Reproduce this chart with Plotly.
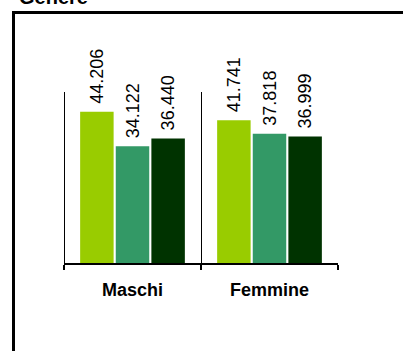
import plotly.graph_objects as go

# Data
categories = ["Maschi", "Femmine"]
series_names = ["Serie A", "Serie B", "Serie C"]
series_values = [
    [44206, 41741],
    [34122, 37818],
    [36440, 36999],
]
series_colors = ["#99CC00", "#339966", "#003300"]
title_text = "Genere"
y_max = 50000

W, H = 403, 351
ML, MR, MT, MB = 64, 65, 92, 88
PW, PH = W - ML - MR, H - MT - MB


def px_x(p):
    return (p - ML) / PW


def px_y(p):
    return (H - MB - p) / PH


def fmt(v):
    # Italian thousands separator; leading nbsp keeps the label off the bar top
    return "\u00a0" + f"{v:,}".replace(",", ".")


fig = go.Figure()
for name, vals, col in zip(series_names, series_values, series_colors):
    fig.add_trace(go.Bar(
        x=categories, y=vals, name=name,
        marker=dict(color=col, line=dict(width=0)),
        text=[fmt(v) for v in vals],
        textposition="outside", textangle=-90,
        textfont=dict(family="Arial, Liberation Sans", size=18, color="black"),
        constraintext="none", cliponaxis=False,
    ))

fig.update_layout(
    width=W, height=H,
    margin=dict(l=ML, r=MR, t=MT, b=MB, pad=0),
    paper_bgcolor="white", plot_bgcolor="white",
    barmode="group", bargap=0.22, bargroupgap=0.06,
    showlegend=False,
    font=dict(family="Arial, Liberation Sans", color="black"),
    xaxis=dict(
        type="category", range=[-0.5, len(categories) - 0.5],
        tickson="boundaries", ticks="outside", ticklen=5, tickwidth=2,
        tickcolor="black", showline=True, linecolor="black", linewidth=2,
        showgrid=False, ticklabelstandoff=9,
        tickfont=dict(size=18, family="Arial, Liberation Sans", weight="bold"),
        fixedrange=True,
    ),
    yaxis=dict(range=[0, y_max], visible=False, fixedrange=True),
)

# Category separators (half-pixel shift keeps the 1px line crisp)
half_px = 0.5 * len(categories) / PW
for i in range(len(categories) + 1):
    xb = i - 0.5 + half_px
    fig.add_shape(type="line", xref="x", yref="y",
                  x0=xb, x1=xb, y0=0, y1=y_max,
                  line=dict(color="black", width=1), layer="below")

# Outer frame (left and top edges visible)
fig.add_shape(type="line", xref="paper", yref="paper",
              x0=px_x(13.5), x1=px_x(13.5), y0=px_y(12.5), y1=px_y(H + 20),
              line=dict(color="black", width=3))
fig.add_shape(type="line", xref="paper", yref="paper",
              x0=px_x(12), x1=px_x(W + 20), y0=px_y(12.5), y1=px_y(12.5),
              line=dict(color="black", width=3))

fig.add_annotation(text=f"<b>{title_text}</b>", xref="paper", yref="paper",
                   x=px_x(17), y=px_y(10), xanchor="left", yanchor="bottom",
                   showarrow=False, font=dict(size=20, color="black"))

fig.write_html("out.html")
